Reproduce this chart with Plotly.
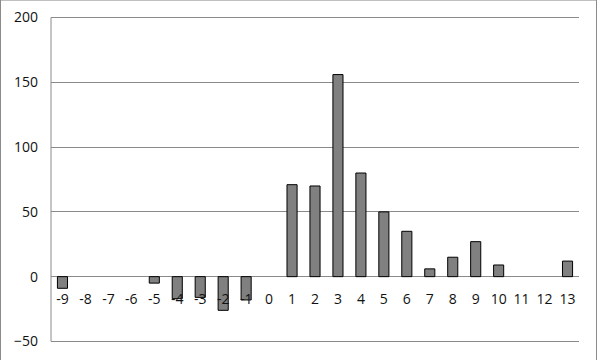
import plotly.graph_objects as go

categories = [str(i) for i in range(-9, 14)]
values = [-9, 0, 0, 0, -5, -17, -16, -26, -18, 0, 71, 70, 156, 80, 50, 35, 6, 15, 27, 9, 0, 0, 12]
y_ticks = [-50, 0, 50, 100, 150, 200]

W, H = 598, 360
y_lo, y_hi, pad = -50, 200, 2
px_per_unit = 323 / 250
ml, mr = 51, 19
mt = 18 - pad * px_per_unit
mb = 19 - pad * px_per_unit

shown = [v if v != 0 else None for v in values]

fig = go.Figure()
fig.add_trace(go.Bar(
    x=categories, y=shown, width=0.44,
    marker=dict(color="#808080", line=dict(color="#000000", width=1)),
))

font = dict(family="Open Sans, Lato, sans-serif", size=14, color="#111111")

fig.update_layout(
    width=W, height=H,
    margin=dict(l=ml, r=mr, t=mt, b=mb, autoexpand=False),
    paper_bgcolor="white", plot_bgcolor="white",
    showlegend=False,
    font=font,
    xaxis=dict(
        type="category", categoryorder="array", categoryarray=categories,
        range=[-0.5, len(categories) - 0.5],
        anchor="free", position=(0 - (y_lo - pad)) / ((y_hi + pad) - (y_lo - pad)),
        automargin=False,
        showgrid=False, showline=False, zeroline=False,
        ticks="", ticklabelstandoff=12,
        tickfont=font,
    ),
    yaxis=dict(
        range=[y_lo - pad, y_hi + pad], tickvals=y_ticks, automargin=False,
        showgrid=True, gridcolor="#8a8a8a", gridwidth=1,
        zeroline=True, zerolinecolor="#8a8a8a", zerolinewidth=1,
        showline=False,
        ticks="", ticklabelstandoff=12,
        tickfont=font,
    ),
)

pw = W - ml - mr
ph = H - mt - mb
# vertical value axis line from -50 to 200
fig.add_shape(
    type="line", xref="paper", yref="y",
    x0=0, x1=0, y0=y_lo, y1=y_hi,
    line=dict(color="#8a8a8a", width=1), layer="above",
)
# chart border
fig.add_shape(
    type="rect", xref="paper", yref="paper",
    x0=(0.5 - ml) / pw, x1=(W - 1.5 - ml) / pw,
    y0=(mb - (H - 1.5)) / ph, y1=(H - mb - 0.5) / ph,
    line=dict(color="#8a8a8a", width=1), layer="above",
)

fig.write_html(
    "out.html",
    config={"displayModeBar": False},
    post_script="document.body.style.margin='0';document.body.style.padding='0';",
)
